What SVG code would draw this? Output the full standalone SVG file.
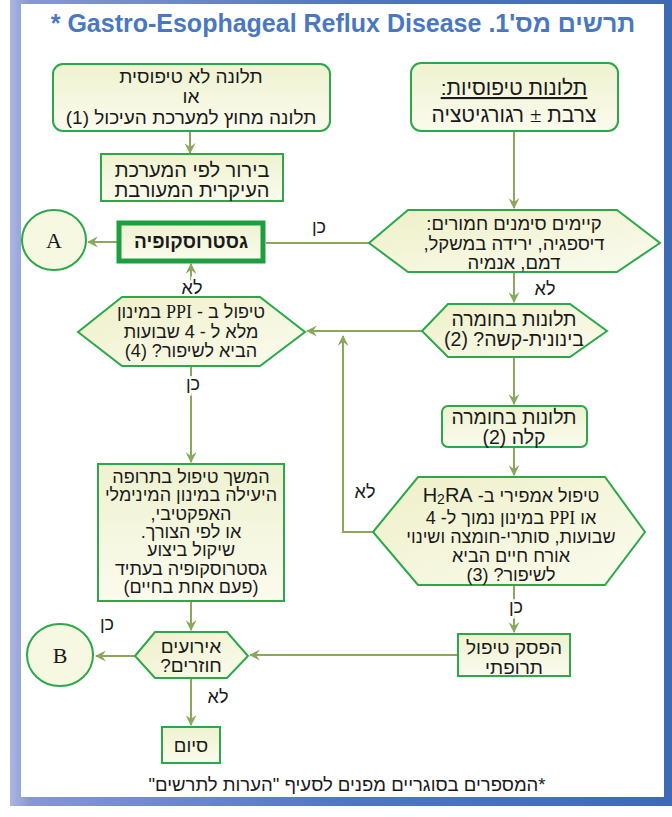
<svg xmlns="http://www.w3.org/2000/svg" width="672" height="817" viewBox="0 0 672 817">
<defs>
<linearGradient id="frame" x1="0" y1="0" x2="1" y2="0">
<stop offset="0" stop-color="#aab6e2"/><stop offset="0.03" stop-color="#8797d2"/><stop offset="0.5" stop-color="#4f78c0"/><stop offset="1" stop-color="#3e6ab5"/>
</linearGradient>
<linearGradient id="fill" x1="0" y1="0" x2="0" y2="1">
<stop offset="0" stop-color="#eef2cf"/><stop offset="1" stop-color="#fbfbee"/>
</linearGradient>
<linearGradient id="hfill" x1="0" y1="0" x2="1" y2="1">
<stop offset="0" stop-color="#eef0c8"/><stop offset="1" stop-color="#fbfbef"/>
</linearGradient>
<marker id="ah" viewBox="0 0 10 10" refX="9" refY="5" markerWidth="11" markerHeight="11" markerUnits="userSpaceOnUse" orient="auto">
<path d="M0,0 L10,5 L0,10 L3.5,5 z" fill="#8aa85c"/>
</marker>
<style>
.n{fill:url(#fill);stroke:#2aa84a;stroke-width:2}
.h{fill:url(#hfill);stroke:#2aa84a;stroke-width:2}
.c{fill:#f7f8e2;stroke:#2aa84a;stroke-width:2}
.t{font-family:"Liberation Sans","DejaVu Sans",sans-serif;font-size:18.5px;fill:#1a1a1a;text-anchor:middle;direction:rtl}
.m{font-size:19.5px}
.s{font-family:"Liberation Serif","DejaVu Serif",serif}
.l{font-family:"Liberation Sans","DejaVu Sans",sans-serif;font-size:18px;fill:#1a1a1a;text-anchor:middle;direction:rtl;stroke:#ffffff;stroke-width:5;paint-order:stroke}
.e{fill:none;stroke:#8aa85c;stroke-width:2}
</style>
</defs>
<g id="frame-border">
<rect x="10" y="0" width="662" height="806" fill="url(#frame)"/>
<rect x="21" y="4" width="643" height="793" fill="#ffffff"/>
</g>
<text id="title" x="343" y="32" style="font-family:'Liberation Sans','DejaVu Sans',sans-serif;font-size:25px;font-weight:bold;fill:#4a78c0;text-anchor:middle;direction:rtl">תרשים מס'1. Gastro-Esophageal Reflux Disease *</text>
<g id="connectors">
<path class="e" d="M190,131 V153" marker-end="url(#ah)"/>
<path class="e" d="M514,131 V208" marker-end="url(#ah)"/>
<path class="e" d="M369,243 H266"/>
<path class="e" d="M117,242 H88" marker-end="url(#ah)"/>
<path class="e" d="M191,297 V264" marker-end="url(#ah)"/>
<path class="e" d="M514,272 V302" marker-end="url(#ah)"/>
<path class="e" d="M422,331 H307" marker-end="url(#ah)"/>
<path class="e" d="M191,366 V462" marker-end="url(#ah)"/>
<path class="e" d="M514,357 V404" marker-end="url(#ah)"/>
<path class="e" d="M514,447 V475" marker-end="url(#ah)"/>
<path class="e" d="M373,532 H343 V336" marker-end="url(#ah)"/>
<path class="e" d="M514,585 V632" marker-end="url(#ah)"/>
<path class="e" d="M458,655 H250" marker-end="url(#ah)"/>
<path class="e" d="M135,656 H96" marker-end="url(#ah)"/>
<path class="e" d="M191,601 V630" marker-end="url(#ah)"/>
<path class="e" d="M191,678 V725" marker-end="url(#ah)"/>
<text class="l" x="319" y="233">כן</text>
<text class="l" x="192" y="294">לא</text>
<text class="l" x="545" y="295">לא</text>
<text class="l" x="193" y="390">כן</text>
<text class="l" x="365" y="498">לא</text>
<text class="l" x="516" y="613">כן</text>
<text class="l" x="107" y="630">כן</text>
<text class="l" x="218" y="703">לא</text>
</g>
<g id="atypical">
<rect class="n" x="53" y="64" width="277" height="67" rx="10"/>
<text class="t" x="191" y="83" style="font-size:19px">תלונה לא טיפוסית</text>
<text class="t" x="191" y="103" style="font-size:19px">או</text>
<text class="t" x="191" y="124" style="font-size:19px">תלונה מחוץ למערכת העיכול (1)</text>
</g>
<g id="workup">
<rect class="n" x="101" y="154" width="182" height="47"/>
<text class="t" x="192" y="176.5" style="font-size:20px">בירור לפי המערכת</text>
<text class="t" x="192" y="197" style="font-size:20px">העיקרית המעורבת</text>
</g>
<g id="typical">
<rect class="n" x="411" y="63" width="207" height="68" rx="10"/>
<text class="t" x="514" y="95" text-decoration="underline" style="font-size:21px">תלונות טיפוסיות:</text>
<text class="t" x="514" y="122" style="font-size:21px">צרבת <tspan class="s">±</tspan> רגורגיטציה</text>
</g>
<g id="alarm">
<polygon class="h" points="369,243 408,210 617,210 660,243 617,272 408,272"/>
<text class="t" x="514" y="230">קיימים סימנים חמורים:</text>
<text class="t" x="514" y="249.5">דיספגיה, ירידה במשקל,</text>
<text class="t" x="514" y="269">דמם, אנמיה</text>
</g>
<g id="gastroscopy">
<rect x="119" y="223" width="144" height="38" fill="url(#fill)" stroke="#1e9e3e" stroke-width="5"/>
<text class="t" x="191" y="248" font-weight="bold" style="font-size:19px">גסטרוסקופיה</text>
</g>
<g id="A">
<ellipse class="c" cx="54" cy="240" rx="32" ry="30"/>
<text x="54" y="248" style="font-family:'Liberation Serif',serif;font-size:22px;text-anchor:middle;fill:#1a1a1a">A</text>
</g>
<g id="ppi-full">
<polygon class="h" points="78,332 122,297 260,297 305,332 260,366 122,366"/>
<text class="t" x="191" y="318" style="font-size:18px">טיפול ב - <tspan class="s">PPI</tspan> במינון</text>
<text class="t" x="191" y="337.5" style="font-size:18px">מלא ל - 4 שבועות</text>
<text class="t" x="191" y="357" style="font-size:18px">הביא לשיפור? (4)</text>
</g>
<g id="severity">
<polygon class="h" points="422,331 448,304 570,304 607,331 570,357 448,357"/>
<text class="t m" x="514" y="326">תלונות בחומרה</text>
<text class="t m" x="514" y="346">בינונית-קשה? (2)</text>
</g>
<g id="mild">
<rect class="n" x="442" y="406" width="145" height="41" rx="6"/>
<text class="t m" x="514" y="423.5">תלונות בחומרה</text>
<text class="t m" x="514" y="443.5">קלה (2)</text>
</g>
<g id="empiric">
<polygon class="h" points="373,532 418,477 605,477 645,532 605,585 418,585"/>
<text class="t" x="511" y="502" style="font-size:18px">טיפול אמפירי ב- <tspan style="font-size:20px">H<tspan style="font-size:14px" dy="2">2</tspan><tspan dy="-2">RA</tspan></tspan></text>
<text class="t" x="511" y="523.5" style="font-size:18px">או <tspan class="s">PPI</tspan> במינון נמוך ל- 4</text>
<text class="t" x="511" y="542.5" style="font-size:18px">שבועות, סותרי-חומצה ושינוי</text>
<text class="t" x="511" y="561.5" style="font-size:18px">אורח חיים הביא</text>
<text class="t" x="511" y="580.5" style="font-size:18px">לשיפור? (3)</text>
</g>
<g id="maintain">
<rect class="n" x="98" y="464" width="186" height="137"/>
<text class="t" x="191" y="483" style="font-size:18px">המשך טיפול בתרופה</text>
<text class="t" x="191" y="501.3" style="font-size:18px">היעילה במינון המינימלי</text>
<text class="t" x="191" y="519.6" style="font-size:18px">האפקטיבי,</text>
<text class="t" x="191" y="538" style="font-size:18px">או לפי הצורך.</text>
<text class="t" x="191" y="556.3" style="font-size:18px">שיקול ביצוע</text>
<text class="t" x="191" y="574.6" style="font-size:18px">גסטרוסקופיה בעתיד</text>
<text class="t" x="191" y="593" style="font-size:18px">(פעם אחת בחיים)</text>
</g>
<g id="stop">
<rect class="n" x="458" y="634" width="112" height="42"/>
<text class="t" x="514" y="654" style="font-size:19px">הפסק טיפול</text>
<text class="t" x="514" y="674" style="font-size:19px">תרופתי</text>
</g>
<g id="recurrence">
<polygon class="h" points="135,656 155,632 227,632 248,656 227,678 155,678"/>
<text class="t" x="191" y="652.5" style="font-size:19px">אירועים</text>
<text class="t" x="191" y="672" style="font-size:19px">חוזרים?</text>
</g>
<g id="B">
<ellipse class="c" cx="60" cy="655" rx="33" ry="31"/>
<text x="60" y="663" style="font-family:'Liberation Serif',serif;font-size:22px;text-anchor:middle;fill:#1a1a1a">B</text>
</g>
<g id="end">
<rect class="n" x="162" y="727" width="58" height="36"/>
<text class="t" x="191" y="752">סיום</text>
</g>
<text id="footnote" x="347" y="791" style="font-family:'Liberation Sans','DejaVu Sans',sans-serif;font-size:18.5px;fill:#1a1a1a;text-anchor:middle;direction:rtl">*המספרים בסוגריים מפנים לסעיף "הערות לתרשים"</text>
</svg>
